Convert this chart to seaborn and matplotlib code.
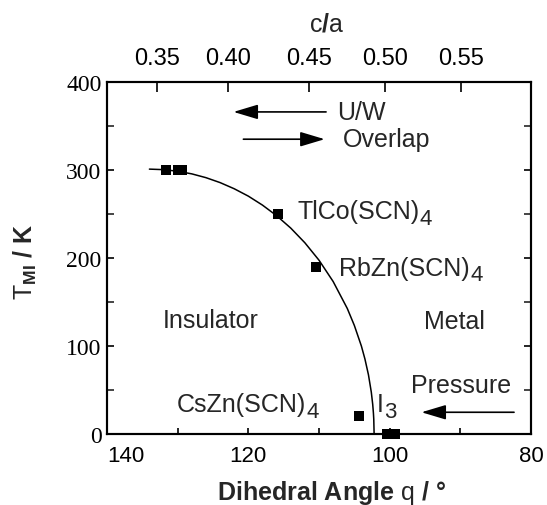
import matplotlib
matplotlib.use("Agg")
import matplotlib.pyplot as plt
import seaborn as sns
import pandas as pd

# ---- data ----
point_angle = [131.7, 129.9, 129.4, 115.8, 110.4, 104.4, 100.4, 99.3]
point_T = [300, 300, 300, 250, 190, 20, 0, 0]

curve_angle = [134, 132, 130, 128, 126, 124, 122, 120, 118, 116, 114, 112, 110,
               108, 106, 105, 104, 103.5, 103, 102.6, 102.4, 102.3, 102.25, 102.2]
curve_T = [301, 300.4, 298.6, 295.6, 291.3, 285.7, 278.7, 270.3, 260.1, 248.1,
           234, 217.3, 197.5, 173.3, 142.7, 123.4, 99.9, 85.2, 67.2, 47.6, 33.7,
           23.8, 16.8, 0]

x_major = [140, 120, 100, 80]
x_minor = [130, 110, 90]
y_major = [0, 100, 200, 300, 400]
y_minor = [50, 150, 250, 350]

ca_labels = ["0.35", "0.40", "0.45", "0.50", "0.55"]
ca_tick_angle = [132.9, 122.9, 111.4, 100.7, 89.9]

sns.set_theme(style="ticks")
plt.rcParams["font.family"] = ["Liberation Sans", "DejaVu Sans"]
plt.rcParams["mathtext.fontset"] = "custom"
plt.rcParams["mathtext.rm"] = "Liberation Sans"
plt.rcParams["mathtext.bf"] = "Liberation Sans:bold"
plt.rcParams["mathtext.it"] = "Liberation Sans:italic"
plt.rcParams["xtick.direction"] = "in"
plt.rcParams["ytick.direction"] = "in"

fig = plt.figure(figsize=(5.47, 5.06), dpi=100)
ax = fig.add_axes([107 / 547, 1 - 435 / 506, 424 / 547, 352 / 506])

df_pts = pd.DataFrame({"angle": point_angle, "T": point_T})
df_curve = pd.DataFrame({"angle": curve_angle, "T": curve_T})

sns.lineplot(data=df_curve, x="angle", y="T", sort=False, estimator=None,
             color="black", lw=1.1, ax=ax)
sns.scatterplot(data=df_pts, x="angle", y="T", marker="s", s=42, color="black",
                linewidth=0, ax=ax, clip_on=False, zorder=5)

ax.set_xlim(140, 80)
ax.set_ylim(0, 400)
ax.set_xlabel("")
ax.set_ylabel("")
for s in ax.spines.values():
    s.set_linewidth(1.5)
    s.set_color("black")

ax.set_xticks(x_major)
ax.set_xticks(x_minor, minor=True)
ax.set_yticks(y_major)
ax.set_yticks(y_minor, minor=True)
ax.tick_params(axis="x", which="both", length=4, width=1.2, labelsize=16, pad=8,
               top=False, colors="black")
ax.tick_params(axis="y", which="major", length=5, width=1.2, labelsize=17, pad=4,
               colors="black")
ax.tick_params(axis="y", which="minor", length=5, width=1.2)
ax.tick_params(axis="y", which="both", right=True)
for lab in ax.get_yticklabels():
    lab.set_fontfamily("Liberation Serif")
xl = ax.get_xticklabels()
xl[0].set_ha("left")

ax2 = ax.twiny()
ax2.set_xlim(ax.get_xlim())
ax2.set_xticks(ca_tick_angle, ca_labels)
ax2.tick_params(axis="x", which="major", length=7, width=1.2, labelsize=17, pad=9,
                colors="black")
for s in ax2.spines.values():
    s.set_linewidth(1.5)
    s.set_color("black")
fig.text(327 / 547, 1 - 25 / 506, r"c$\mathbf{/}$a", fontsize=18,
         ha="center", va="center")

arrow = dict(arrowstyle="-|>,head_length=1.0,head_width=0.3", mutation_scale=15,
             color="black", lw=1.2, shrinkA=0, shrinkB=0)
ax.annotate("", xy=(122.1, 366), xytext=(109.0, 366), arrowprops=arrow)
ax.annotate("", xy=(109.2, 335), xytext=(120.7, 335), arrowprops=arrow)
ax.annotate("", xy=(95.5, 24.7), xytext=(82.4, 24.7), arrowprops=arrow)

fs = 18


def label(x, y, main, sub=None):
    t = ax.text(x, y, main, fontsize=fs, ha="left", va="center")
    if sub:
        ax.annotate(sub, xy=(1, 0.2), xycoords=t, fontsize=16,
                    ha="left", va="center")
    return t


label(107.5, 366, "U/W")
label(106.6, 335, "Overlap")
label(113.0, 253, "TlCo(SCN)", "4")
label(107.1, 189, "RbZn(SCN)", "4")
label(132.1, 129, "Insulator")
label(95.1, 128, "Metal")
label(130.1, 34, "CsZn(SCN)", "4")
label(101.8, 34, "I", "3")
label(97.0, 56, "Pressure")

fig.text(25 / 547, 1 - 262 / 506, r"$\mathrm{T}_{\mathbf{MI}}\mathbf{\ /\ K}$",
         rotation=90, fontsize=18, ha="center", va="center")
fig.text(331 / 547, 1 - 493 / 506,
         r"$\mathbf{Dihedral\ Angle}\ \mathrm{q}\ \mathbf{/\ °}$",
         fontsize=18, ha="center", va="center")

fig.savefig("out.png", dpi=100)
